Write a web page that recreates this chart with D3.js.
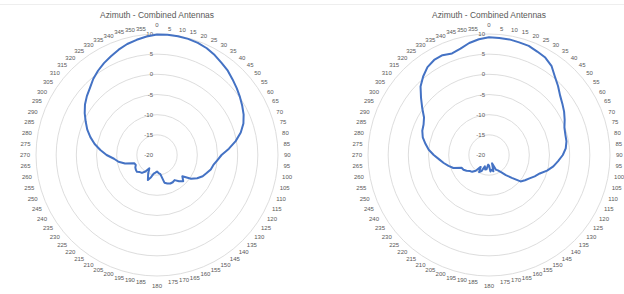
<!DOCTYPE html>
<html>
<head>
<meta charset="utf-8">
<script src="https://cdn.jsdelivr.net/npm/d3@7"></script>
<style>
  html, body { margin: 0; padding: 0; background: #fff; }
  svg { display: block; }
</style>
</head>
<body>
<svg id="chart" width="624" height="294"></svg>
<script>
// ---- Data ----
const chartTitle = "Azimuth - Combined Antennas";
const angles = d3.range(0, 360, 5); // category labels 0..355
const radialTicks = [-20, -15, -10, -5, 0, 5, 10];

const seriesLeft = [
  9.9, 9.9, 9.9, 9.8, 9.6, 9.2, 8.6, 7.9, 7.3, 6.5, 5.8, 5.1,
  4.4, 3.7, 2.8, 1.5, -0.2, -2.1, -4.0, -5.0, -5.8, -6.2, -6.9, -7.5,
  -8.5, -9.7, -11.8, -10.8, -11.5, -12.4, -12.2, -12.2, -12.5, -12.9, -15.2, -15.5,
  -15.9, -15.6, -15.3, -14.3, -13.4, -14.8, -16.2, -15.0, -14.2, -14.0, -13.5, -13.6,
  -13.8, -14.2, -14.0, -11.8, -10.3, -9.3, -7.5, -5.9, -4.3, -2.9, -1.6, -0.5,
  0.7, 1.8, 2.7, 3.5, 4.6, 5.5, 6.3, 7.0, 7.8, 8.5, 9.0, 9.5
];

const seriesRight = [
  9.2, 9.1, 9.1, 8.9, 8.8, 8.3, 7.9, 7.0, 5.4, 4.2, 3.0, 2.2,
  1.5, 0.7, -0.1, -0.4, -0.5, -0.9, -1.7, -2.8, -3.8, -5.1, -6.6, -7.5,
  -8.4, -9.1, -9.8, -12.0, -13.5, -14.8, -15.6, -16.0, -17.8, -15.8, -16.3, -15.9,
  -17.4, -17.6, -16.4, -16.3, -17.0, -15.6, -15.1, -16.4, -14.9, -14.1, -13.8, -13.2,
  -12.7, -12.5, -10.6, -9.6, -8.6, -7.6, -6.3, -5.0, -4.0, -3.0, -2.4, -2.1,
  -1.4, 0.2, 2.0, 4.0, 5.4, 6.6, 7.2, 7.3, 6.8, 7.3, 8.2, 8.8
];

// ---- Drawing ----
const svg = d3.select("#chart");
const font = "'Liberation Sans', Arial, sans-serif";
const textColor = "#595959";

// faint chart-area border line at the top
svg.append("line")
  .attr("x1", 0).attr("x2", 624).attr("y1", 4.5).attr("y2", 4.5)
  .attr("stroke", "#eeeeee").attr("stroke-width", 1);

const rScale = d3.scaleLinear().domain([-20, 10]).range([0, 121]);
const aScale = d3.scaleLinear().domain([0, 360]).range([0, 2 * Math.PI]);

function drawRadar(cx, cy, values) {
  const g = svg.append("g").attr("transform", `translate(${cx},${cy})`);

  // title
  g.append("text")
    .attr("x", 0).attr("y", -137)
    .attr("text-anchor", "middle")
    .attr("font-family", font)
    .attr("font-size", 9.6)
    .attr("fill", textColor)
    .attr("textLength", 114)
    .attr("lengthAdjust", "spacingAndGlyphs")
    .text(chartTitle);

  // rings
  g.selectAll("circle.ring")
    .data(radialTicks.filter(t => t > -20))
    .join("circle")
    .attr("class", "ring")
    .attr("r", d => rScale(d))
    .attr("fill", "none")
    .attr("stroke", "#d9d9d9")
    .attr("stroke-width", 0.9);

  // ring labels
  g.selectAll("text.rlab")
    .data(radialTicks)
    .join("text")
    .attr("class", "rlab")
    .attr("x", -4)
    .attr("y", d => -rScale(d))
    .attr("dy", "0.35em")
    .attr("text-anchor", "end")
    .attr("font-family", font)
    .attr("font-size", 6)
    .attr("fill", textColor)
    .text(d => d);

  // angle labels: nearest edge of label touches a circle of radius labR
  const labR = 127;
  const side = d => {
    const s = Math.sin(aScale(d));
    return Math.abs(s) < 1e-6 ? 0 : Math.sign(s);
  };
  g.selectAll("text.alab")
    .data(angles)
    .join("text")
    .attr("class", "alab")
    .attr("x", d => labR * Math.sin(aScale(d)))
    .attr("y", d => -labR * Math.cos(aScale(d)) + (side(d) === 0 ? -3.6 * Math.sign(Math.cos(aScale(d))) : 0))
    .attr("dy", "0.35em")
    .attr("text-anchor", d => side(d) > 0 ? "start" : side(d) < 0 ? "end" : "middle")
    .attr("font-family", font)
    .attr("font-size", 6)
    .attr("fill", textColor)
    .text(d => d);

  // data line
  const line = d3.lineRadial()
    .angle((d, i) => aScale(angles[i]))
    .radius(d => rScale(d))
    .curve(d3.curveLinearClosed);

  g.append("path")
    .datum(values)
    .attr("d", line)
    .attr("fill", "none")
    .attr("stroke", "#4472C4")
    .attr("stroke-width", 2)
    .attr("stroke-linejoin", "round");
}

drawRadar(157, 155, seriesLeft);
drawRadar(489, 155, seriesRight);
</script>
</body>
</html>
